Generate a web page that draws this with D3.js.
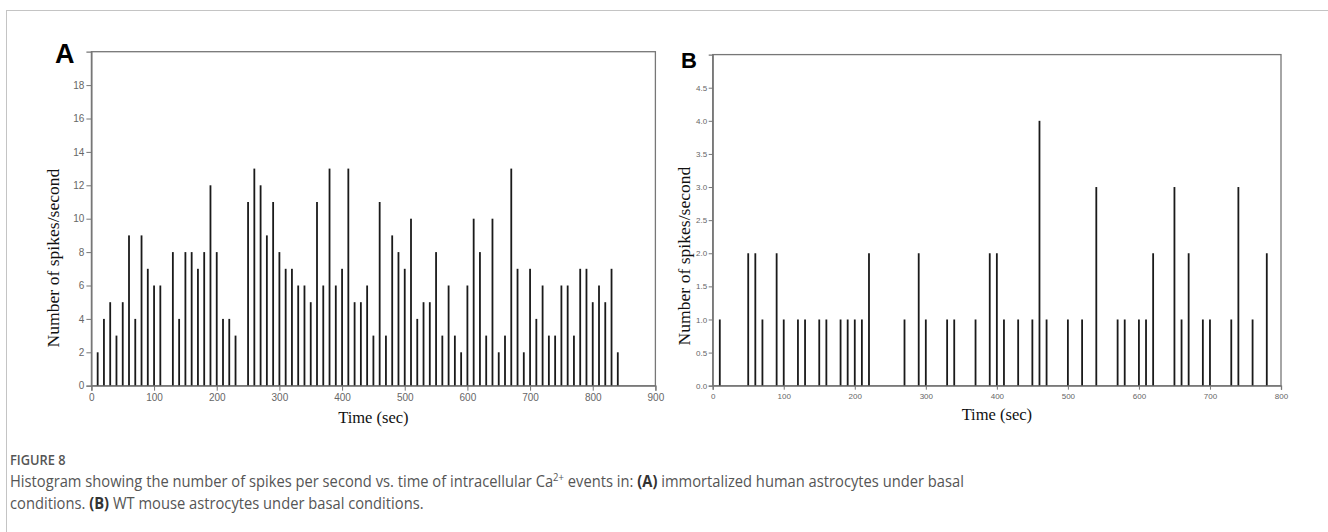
<!DOCTYPE html>
<html>
<head>
<meta charset="utf-8">
<script src="https://cdn.jsdelivr.net/npm/d3@7"></script>
<style>
  html, body { margin: 0; padding: 0; background: #fff; }
  svg { display: block; }
</style>
</head>
<body>
<svg id="chart" width="1328" height="532"></svg>
<script>
// ---------- Data ----------
// Panel A: immortalized human astrocytes (time in sec, spikes/second)
const timesA = [10,20,30,40,50,60,70,80,90,100,110,130,140,150,160,170,180,190,200,210,220,230,
  250,260,270,280,290,300,310,320,330,340,350,360,370,380,390,400,410,420,430,440,450,460,470,480,490,500,
  510,520,530,540,550,560,570,580,590,600,610,620,630,640,650,660,670,680,690,700,710,720,730,740,750,760,
  770,780,790,800,810,820,830,840];
const valuesA = [2,4,5,3,5,9,4,9,7,6,6,8,4,8,8,7,8,12,8,4,4,3,
  11,13,12,9,11,8,7,7,6,6,5,11,6,13,6,7,13,5,5,6,3,11,3,9,8,7,
  10,4,5,5,8,3,6,3,2,6,10,8,3,10,2,3,13,7,2,7,4,6,3,3,6,6,
  3,7,7,5,6,5,7,2];
const xTicksA = [0,100,200,300,400,500,600,700,800,900];
const yTicksA = [0,2,4,6,8,10,12,14,16,18];

// Panel B: WT mouse astrocytes
const timesB = [10,50,60,70,90,100,120,130,150,160,180,190,200,210,220,270,290,300,330,340,370,390,400,410,
  430,450,460,470,500,520,540,570,580,600,610,620,650,660,670,690,700,730,740,760,780];
const valuesB = [1,2,2,1,2,1,1,1,1,1,1,1,1,1,2,1,2,1,1,1,1,2,2,1,
  1,1,4,1,1,1,3,1,1,1,1,2,3,1,2,1,1,1,3,1,2];
const xTicksB = [0,100,200,300,400,500,600,700,800];
const yTicksB = [0,0.5,1,1.5,2,2.5,3,3.5,4,4.5];

const yTitle = "Number of spikes/second";
const xTitle = "Time (sec)";

// ---------- Drawing ----------
const svg = d3.select("#chart");

// card border
svg.append("rect")
  .attr("x", 6.5).attr("y", 10.5)
  .attr("width", 1400).attr("height", 600)
  .attr("fill", "none").attr("stroke", "#c4c4c4").attr("stroke-width", 1);

function panel(cfg) {
  const x = d3.scaleLinear().domain(cfg.xDomain).range([cfg.left, cfg.right]);
  const y = d3.scaleLinear().domain(cfg.yDomain).range([cfg.bottom, cfg.top]);
  const g = svg.append("g");

  // frame
  g.append("rect")
    .attr("x", cfg.left).attr("y", cfg.top)
    .attr("width", cfg.right - cfg.left).attr("height", cfg.bottom - cfg.top)
    .attr("fill", "none").attr("stroke", "#777").attr("stroke-width", 1.3);

  // bars
  g.selectAll("rect.bar").data(cfg.times.map((t, i) => ({t, v: cfg.values[i]})))
    .enter().append("rect").attr("class", "bar")
    .attr("x", d => x(d.t) - cfg.barW / 2)
    .attr("y", d => y(d.v))
    .attr("width", cfg.barW)
    .attr("height", d => y(0) - y(d.v))
    .attr("fill", "#1a1a1a");

  // axes
  const xAxis = d3.axisBottom(x).tickValues(cfg.xTicks).tickSize(cfg.tick).tickPadding(cfg.xPad)
    .tickFormat(d3.format("d"));
  const gx = g.append("g").attr("transform", `translate(0,${cfg.bottom})`).call(xAxis);
  const yAxis = d3.axisLeft(y).tickValues(cfg.yTicks).tickSize(cfg.tick).tickPadding(cfg.yPad)
    .tickFormat(cfg.yFormat);
  const gy = g.append("g").attr("transform", `translate(${cfg.left},0)`).call(yAxis);
  [gx, gy].forEach(a => {
    a.select(".domain").attr("stroke", "#777").attr("stroke-width", 1.3);
    a.selectAll(".tick line").attr("stroke", "#777");
    a.selectAll(".tick text").attr("fill", "#666")
      .style("font-family", "Liberation Sans, Arial, sans-serif")
      .style("font-size", cfg.tickFont + "px");
  });

  // titles
  g.append("text")
    .attr("transform", `translate(${cfg.yTitleX},${cfg.yTitleCY}) rotate(-90)`)
    .attr("text-anchor", "middle")
    .style("font-family", "Liberation Serif, Times New Roman, serif")
    .style("font-size", "17.6px").attr("fill", "#111")
    .text(yTitle);
  g.append("text")
    .attr("x", (cfg.left + cfg.right) / 2).attr("y", cfg.xTitleY)
    .attr("text-anchor", "middle")
    .style("font-family", "Liberation Serif, Times New Roman, serif")
    .style("font-size", "16.5px").attr("fill", "#111")
    .text(xTitle);

  // panel letter
  g.append("text")
    .attr("x", cfg.letterX).attr("y", cfg.letterY)
    .style("font-family", "Liberation Sans, Arial, sans-serif")
    .style("font-weight", "bold").style("font-size", cfg.letterSize + "px")
    .attr("fill", "#000")
    .text(cfg.letter);
}

panel({
  letter: "A", letterX: 55, letterY: 63, letterSize: 27,
  left: 91.4, right: 655.4, top: 51.7, bottom: 385.7,
  xDomain: [0, 900], yDomain: [0, 20],
  times: timesA, values: valuesA, xTicks: xTicksA, yTicks: yTicksA,
  yFormat: d3.format("d"), barW: 1.8, tickFont: 10, tick: 5, xPad: 3, yPad: 2,
  yTitleX: 59, yTitleCY: 258, xTitleY: 423
});

panel({
  letter: "B", letterX: 681, letterY: 68, letterSize: 22,
  left: 712.7, right: 1281, top: 54.6, bottom: 385.7,
  xDomain: [0, 800], yDomain: [0, 5],
  times: timesB, values: valuesB, xTicks: xTicksB, yTicks: yTicksB,
  yFormat: d3.format(".1f"), barW: 1.8, tickFont: 8, tick: 4, xPad: 4, yPad: 1.5,
  yTitleX: 690, yTitleCY: 256, xTitleY: 420
});

// ---------- Caption ----------
const capFont = "Open Sans, Noto Sans, sans-serif";
const capScale = 0.95;
svg.append("text")
  .attr("transform", `translate(10,465) scale(${capScale},1)`)
  .style("font-family", capFont).style("font-size", "13.5px").style("font-weight", "600")
  .attr("fill", "#555")
  .text("FIGURE 8");

const line1 = svg.append("text")
  .attr("transform", `translate(10,487) scale(${capScale},1)`)
  .style("font-family", capFont).style("font-size", "15.5px")
  .attr("fill", "#555");
line1.append("tspan").text("Histogram showing the number of spikes per second vs. time of intracellular Ca");
line1.append("tspan").attr("baseline-shift", "super").style("font-size", "10px").text("2+");
line1.append("tspan").text(" events in: ");
line1.append("tspan").style("font-weight", "bold").attr("fill", "#333").text("(A)");
line1.append("tspan").text(" immortalized human astrocytes under basal");

const line2 = svg.append("text")
  .attr("transform", `translate(10,509) scale(${capScale},1)`)
  .style("font-family", capFont).style("font-size", "15.5px")
  .attr("fill", "#555");
line2.append("tspan").text("conditions. ");
line2.append("tspan").style("font-weight", "bold").attr("fill", "#333").text("(B)");
line2.append("tspan").text(" WT mouse astrocytes under basal conditions.");
</script>
</body>
</html>
